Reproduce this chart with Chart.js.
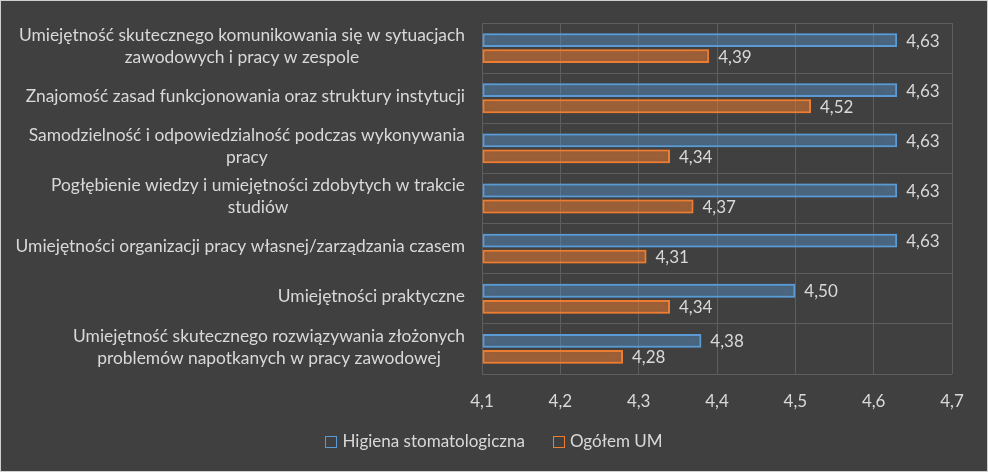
<!DOCTYPE html>
<html><head><meta charset="utf-8">
<script src="https://cdn.jsdelivr.net/npm/chart.js@4/dist/chart.umd.min.js"></script>
<style>
html,body{margin:0;padding:0;background:#404040;}
#wrap{position:relative;width:988px;height:472px;box-sizing:border-box;border:1px solid #d0d0d0;background:#404040;}
canvas{display:block;}
</style></head><body>
<div id="wrap"><canvas id="c" width="986" height="470"></canvas></div>
<script>
const categories = [
  ["Umiejętność skutecznego komunikowania się w sytuacjach","zawodowych i pracy w zespole"],
  ["Znajomość zasad funkcjonowania oraz struktury instytucji"],
  ["Samodzielność i odpowiedzialność podczas wykonywania","pracy"],
  ["Pogłębienie wiedzy i umiejętności zdobytych w trakcie","studiów"],
  ["Umiejętności organizacji pracy własnej/zarządzania czasem"],
  ["Umiejętności praktyczne"],
  ["Umiejętność skutecznego rozwiązywania złożonych","problemów napotkanych w pracy zawodowej"]
];
const seriesNames = ["Higiena stomatologiczna","Ogółem UM"];
const higiena = [4.63,4.63,4.63,4.63,4.63,4.50,4.38];
const ogolem = [4.39,4.52,4.34,4.37,4.31,4.34,4.28];
const xTicks = [4.1,4.2,4.3,4.4,4.5,4.6,4.7];

const FONT = "Lato, 'Open Sans', sans-serif";
const FS = 17;
const CAT_FS = 17.4;
const TXT = "#d9d9d9";

const glowPlugin = {
  id:'glow',
  beforeDatasetDraw(chart,args){
    const ctx = chart.ctx;
    ctx.save();
    ctx.shadowColor = args.index===0 ? 'rgba(91,155,213,1)' : 'rgba(237,125,49,1)';
    ctx.shadowBlur = 11;
  },
  afterDatasetDraw(chart,args){
    chart.ctx.restore();
  }
};

const labelPlugin = {
  id:'labels',
  afterDatasetsDraw(chart){
    const ctx = chart.ctx;
    ctx.save();
    ctx.font = FS + "px " + FONT;
    ctx.fillStyle = TXT;
    ctx.textBaseline = 'middle';
    ctx.textAlign = 'left';
    chart.data.datasets.forEach((ds,i)=>{
      const meta = chart.getDatasetMeta(i);
      meta.data.forEach((el,j)=>{
        ctx.fillText(ds.data[j].toFixed(2).replace('.',','), el.x + 9, el.y + 1);
      });
    });
    ctx.font = CAT_FS + "px " + FONT;
    const ys = chart.scales.y;
    const right = ys.right - 17;
    const lh = 22;
    categories.forEach((lines,i)=>{
      const cy = ys.getPixelForTick(i);
      let maxW = 0;
      lines.forEach(l=>{maxW=Math.max(maxW, ctx.measureText(l).width);});
      const cx = right - maxW/2;
      ctx.textAlign='center';
      const y0 = cy - (lines.length-1)*lh/2 - 2;
      lines.forEach((l,k)=>ctx.fillText(l, cx, y0 + k*lh));
    });
    ctx.restore();
  },
  afterDraw(chart){
    // legend (hollow squares, wide item gap)
    const ctx = chart.ctx;
    ctx.save();
    ctx.font = FS + "px " + FONT;
    ctx.textBaseline = 'middle';
    ctx.textAlign = 'left';
    const box = 11, gap = 6, itemGap = 28;
    const ds = chart.data.datasets;
    const widths = ds.map(d=>ctx.measureText(d.label).width);
    const total = widths.reduce((a,w)=>a+box+gap+w,0) + itemGap*(ds.length-1);
    let x = (chart.width - total)/2;
    const cy = chart.scales.x.bottom + 19;
    ds.forEach((d,i)=>{
      ctx.strokeStyle = d.borderColor;
      ctx.lineWidth = 1;
      ctx.strokeRect(Math.round(x)+0.5, Math.round(cy - box/2)+0.5, box, box);
      ctx.fillStyle = TXT;
      ctx.fillText(d.label, x + box + gap, cy + 1);
      x += box + gap + widths[i] + itemGap;
    });
    ctx.restore();
  }
};

new Chart(document.getElementById('c'),{
  type:'bar',
  data:{
    labels: categories,
    datasets:[
      {label:seriesNames[0], data:higiena, base:4.1, backgroundColor:'rgba(91,155,213,0.2)', borderColor:'#5b9bd5', borderWidth:2, borderSkipped:false, categoryPercentage:0.64, barPercentage:0.86},
      {label:seriesNames[1], data:ogolem, base:4.1, backgroundColor:'rgba(237,125,49,0.3)', borderColor:'#ed7d31', borderWidth:2, borderSkipped:false, categoryPercentage:0.64, barPercentage:0.86}
    ]
  },
  options:{
    indexAxis:'y',
    responsive:false,
    animation:false,
    layout:{padding:{top:22,right:35,left:0,bottom:49}},
    scales:{
      x:{
        min:4.1,max:4.7,
        afterBuildTicks(s){ s.ticks = xTicks.map(v=>({value:v})); },
        afterFit(s){ s.height = 48; },
        ticks:{color:TXT,font:{size:FS,family:FONT},padding:17,callback:v=>Number(v).toFixed(1).replace('.',',')},
        grid:{color:'#5e5e5e',lineWidth:1,drawTicks:false},
        border:{display:false}
      },
      y:{
        ticks:{display:false},
        afterFit(s){ s.width = 481; },
        grid:{color:'#5e5e5e',lineWidth:1,drawTicks:false,offset:true},
        border:{display:false}
      }
    },
    plugins:{
      legend:{display:false},
      tooltip:{enabled:false}
    }
  },
  plugins:[glowPlugin,labelPlugin]
});
</script>
</body></html>
